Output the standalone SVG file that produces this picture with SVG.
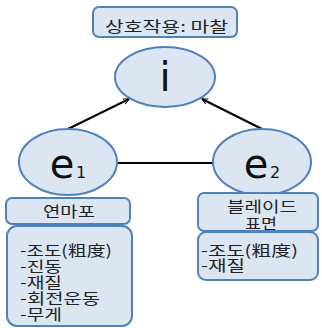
<svg xmlns="http://www.w3.org/2000/svg" width="322" height="328" viewBox="0 0 322 328">
  <style>
    .shape { fill: #dce6f2; stroke: #4f81bd; stroke-width: 2; }
    .kr { font-family: "Noto Sans CJK KR", "Noto Sans", sans-serif; font-size: 15px; fill: #222; }
    .sym { font-family: "DejaVu Sans", "Liberation Sans", sans-serif; fill: #111; }
    .link { stroke: #000; stroke-width: 2; fill: none; }
  </style>
  <defs>
    <marker id="arrow" viewBox="0 0 10 10" refX="9" refY="5" markerWidth="7" markerHeight="7" orient="auto" markerUnits="userSpaceOnUse">
      <path d="M1,1 L9,5 L1,9" fill="none" stroke="#000" stroke-width="1.6"/>
    </marker>
  </defs>

  <g id="connectors">
    <line class="link" x1="68" y1="129" x2="129" y2="99" marker-end="url(#arrow)"/>
    <line class="link" x1="262" y1="129" x2="202" y2="99" marker-end="url(#arrow)"/>
    <line class="link" x1="117" y1="163" x2="213" y2="163"/>
  </g>

  <g id="interaction-label">
    <rect class="shape" x="93" y="7" width="144" height="30" rx="6"/>
    <text class="kr" x="105" y="32" textLength="123" lengthAdjust="spacingAndGlyphs">상호작용: 마찰</text>
  </g>

  <g id="node-i">
    <ellipse class="shape" cx="165" cy="77" rx="50" ry="30"/>
    <text class="sym" x="165" y="91" font-size="40" text-anchor="middle">i</text>
  </g>

  <g id="node-e1">
    <ellipse class="shape" cx="68" cy="162" rx="49" ry="33"/>
    <text class="sym" x="62" y="178" font-size="40" text-anchor="middle">e</text>
    <text class="sym" x="81" y="178" font-size="16" text-anchor="middle">1</text>
  </g>

  <g id="node-e2">
    <ellipse class="shape" cx="262" cy="162" rx="49" ry="33"/>
    <text class="sym" x="256" y="178" font-size="40" text-anchor="middle">e</text>
    <text class="sym" x="275" y="178" font-size="16" text-anchor="middle">2</text>
  </g>

  <g id="e1-label">
    <rect class="shape" x="6" y="198" width="124" height="26" rx="6"/>
    <text class="kr" x="43" y="217" textLength="52" lengthAdjust="spacingAndGlyphs">연마포</text>
  </g>

  <g id="e1-properties">
    <rect class="shape" x="7" y="226" width="125" height="100" rx="10"/>
    <text class="kr">
      <tspan x="20" y="256" textLength="92" lengthAdjust="spacingAndGlyphs">-조도(粗度)</tspan>
      <tspan x="20" y="272" textLength="42" lengthAdjust="spacingAndGlyphs">-진동</tspan>
      <tspan x="20" y="288" textLength="42" lengthAdjust="spacingAndGlyphs">-재질</tspan>
      <tspan x="20" y="304" textLength="80" lengthAdjust="spacingAndGlyphs">-회전운동</tspan>
      <tspan x="20" y="320" textLength="42" lengthAdjust="spacingAndGlyphs">-무게</tspan>
    </text>
  </g>

  <g id="e2-label">
    <rect class="shape" x="198" y="193" width="120" height="38" rx="6"/>
    <text class="kr">
      <tspan x="227" y="212" textLength="70" lengthAdjust="spacingAndGlyphs">블레이드</tspan>
      <tspan x="245" y="229" textLength="32" lengthAdjust="spacingAndGlyphs">표면</tspan>
    </text>
  </g>

  <g id="e2-properties">
    <rect class="shape" x="198" y="232" width="120" height="48" rx="8"/>
    <text class="kr">
      <tspan x="201" y="256" textLength="97" lengthAdjust="spacingAndGlyphs">-조도(粗度)</tspan>
      <tspan x="201" y="271" textLength="44" lengthAdjust="spacingAndGlyphs">-재질</tspan>
    </text>
  </g>
</svg>
